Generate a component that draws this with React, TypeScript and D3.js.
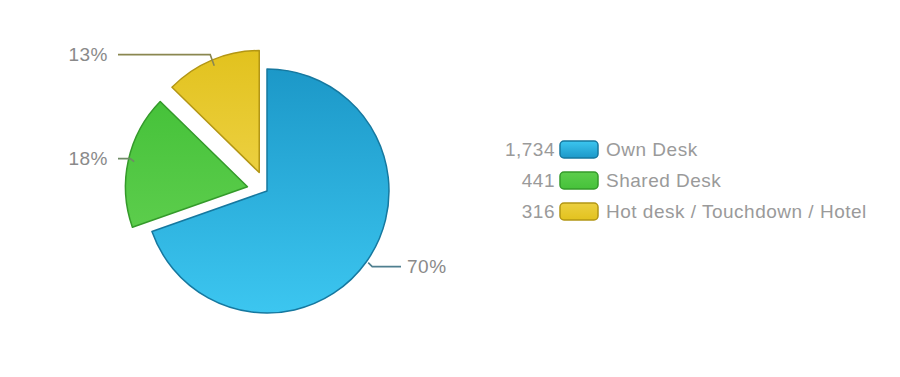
import React from "react";
import * as d3 from "d3";

const categories = ["Own Desk", "Shared Desk", "Hot desk / Touchdown / Hotel"];
const values = [1734, 441, 316];
const percentLabels = ["70%", "18%", "13%"];
const fills = [
  ["#1c98c8", "#3cc6f0", "#16789f"],
  ["#46c23a", "#5ccd4c", "#349a2a"],
  ["#e2c21e", "#ecd040", "#b39614"],
];

const W = 900;
const H = 377;
const cx = 267;
const cy = 191;
const R = 122;
const explode = [0, 20, 20];

export default function App() {
  const pie = d3.pie<number>().sort(null).value((d) => d);
  const arcs = pie(values);
  const arc = d3.arc<d3.PieArcDatum<number>>().innerRadius(0).outerRadius(R);
  const fmt = d3.format(",");

  const legendY = d3.scaleBand<string>().domain(categories).range([134, 227]).padding(0);

  const labelSpecs = [
    { side: 1, textX: 407, dy: 4, inset: -2 },
    { side: -1, textX: 108, dy: -3, inset: 6 },
    { side: -1, textX: 108, dy: -11, inset: 6 },
  ];

  return (
    <div style={{ margin: -8, width: W, height: H, background: "#fff" }}>
      <svg width={W} height={H} style={{ display: "block" }}>
        <defs>
          {fills.map((f, i) => (
            <linearGradient key={i} id={`g${i}`} x1="0" y1="0" x2="0" y2="1">
              <stop offset="0%" stopColor={f[0]} />
              <stop offset="100%" stopColor={f[1]} />
            </linearGradient>
          ))}
          {fills.map((f, i) => (
            <linearGradient key={"l" + i} id={`lg${i}`} x1="0" y1="0" x2="0" y2="1">
              <stop offset="0%" stopColor={f[1]} />
              <stop offset="100%" stopColor={f[0]} />
            </linearGradient>
          ))}
        </defs>
        <rect x={0} y={0} width={W} height={H} fill="#fff" />
        {arcs.map((a, i) => {
          const mid = (a.startAngle + a.endAngle) / 2;
          const ox = Math.sin(mid) * explode[i];
          const oy = -Math.cos(mid) * explode[i];
          return (
            <g key={i} transform={`translate(${cx + ox},${cy + oy})`}>
              <path d={arc(a) || ""} fill={`url(#g${i})`} stroke={fills[i][2]} strokeWidth={1.5} strokeLinejoin="round" />
            </g>
          );
        })}
        {arcs.map((a, i) => {
          const mid = (a.startAngle + a.endAngle) / 2;
          const s = labelSpecs[i];
          const rr = R + explode[i] - s.inset;
          const px = cx + Math.sin(mid) * rr;
          const py = cy - Math.cos(mid) * rr;
          const ly = py + s.dy;
          const ex = s.side > 0 ? s.textX - 6 : s.textX + 10;
          const elbowX = px + (s.side > 0 ? 4 : -4);
          const pts = `${px},${py} ${elbowX},${ly} ${ex},${ly}`;
          return (
            <g key={"lab" + i}>
              <polyline points={pts} fill="none" stroke={i === 2 ? "#8a8750" : i === 1 ? "#6f8a66" : "#4f7f8f"} strokeWidth={1.6} />
              <text
                x={s.textX}
                y={ly}
                dy="0.35em"
                textAnchor={s.side > 0 ? "start" : "end"}
                fontFamily="Liberation Sans, Arial, sans-serif"
                fontSize={19}
                letterSpacing={0.5}
                fill="#8a8a8a"
              >
                {percentLabels[i]}
              </text>
            </g>
          );
        })}
        {categories.map((c, i) => {
          const y = (legendY(c) || 0) + legendY.bandwidth() / 2;
          return (
            <g key={"leg" + i} fontFamily="Liberation Sans, Arial, sans-serif" fontSize={19} letterSpacing={0.5} fill="#9a9a9a">
              <text x={555} y={y} dy="0.35em" textAnchor="end">
                {fmt(values[i])}
              </text>
              <rect x={560} y={y - 8.5} width={38} height={17} rx={4} fill={`url(#lg${i})`} stroke={fills[i][2]} strokeWidth={1.5} />
              <text x={606} y={y} dy="0.35em">
                {c}
              </text>
            </g>
          );
        })}
      </svg>
    </div>
  );
}
